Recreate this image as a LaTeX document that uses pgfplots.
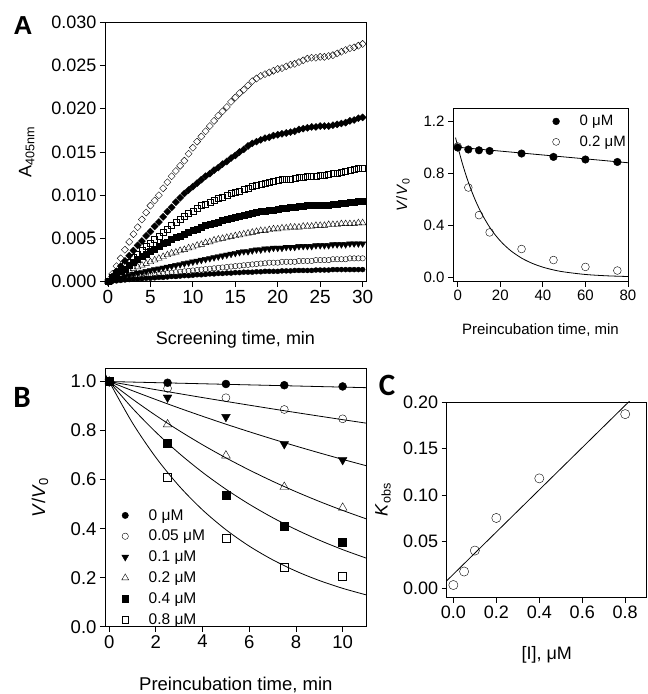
\documentclass[border=0pt]{standalone}
\usepackage{pgfplots}
\usepackage{pgfplotstable}
\pgfplotsset{compat=1.18}
\usepackage{fontspec}
\setmainfont{Liberation Sans}
\newfontfamily\letterfont{Carlito}

% Absorbance traces at 405 nm, one column per inhibitor concentration
\pgfplotstableread{
t    d1     d2     s1     s2     tu      td      c1      c2
0    0      0      0      0      0       0       0       0
0.5  0.0009 0.0006 0.0005 0.0004 0.00025 0.00015 0.0001  0.00005
1    0.0018 0.0012 0.0010 0.0008 0.0005  0.0003  0.0002  0.0001
1.5  0.0027 0.0018 0.0014 0.0012 0.00075 0.00045 0.0003  0.00015
2    0.0037 0.0024 0.0019 0.0015 0.0010  0.0006  0.0004  0.0002
2.5  0.0046 0.0030 0.0023 0.0019 0.0013  0.00075 0.00045 0.00025
3    0.0055 0.0036 0.0028 0.0022 0.0015  0.0009  0.0005  0.0003
3.5  0.0063 0.0042 0.0032 0.0026 0.0017  0.0010  0.0006  0.0003
4    0.0072 0.0047 0.0036 0.0029 0.0019  0.0011  0.0007  0.00035
4.5  0.0080 0.0053 0.0041 0.0032 0.0021  0.0012  0.00075 0.0004
5    0.0088 0.0058 0.0045 0.0035 0.0023  0.0013  0.0008  0.0004
5.5  0.0094 0.0064 0.0049 0.0038 0.0025  0.0014  0.00085 0.00045
6    0.0100 0.0069 0.0053 0.0041 0.0027  0.0015  0.0009  0.0005
6.5  0.0108 0.0075 0.0057 0.0044 0.0029  0.0016  0.00095 0.0005
7    0.0115 0.0081 0.0061 0.0046 0.0031  0.0017  0.0010  0.00055
7.5  0.0122 0.0086 0.0065 0.0049 0.0033  0.0018  0.00105 0.0006
8    0.0128 0.0092 0.0069 0.0051 0.0034  0.0019  0.0011  0.0006
8.5  0.0134 0.0097 0.0072 0.0053 0.0036  0.0020  0.00115 0.00065
9    0.0140 0.0102 0.0076 0.0055 0.0037  0.0021  0.0012  0.0007
9.5  0.0148 0.0106 0.0079 0.0057 0.0039  0.0022  0.00125 0.0007
10   0.0155 0.0110 0.0082 0.0059 0.0040  0.0023  0.0013  0.00075
10.5 0.0162 0.0114 0.0085 0.0061 0.0042  0.0024  0.00135 0.0008
11   0.0168 0.0118 0.0088 0.0063 0.0043  0.0025  0.0014  0.0008
11.5 0.0174 0.0122 0.0090 0.0065 0.0045  0.0026  0.00145 0.00085
12   0.0180 0.0125 0.0092 0.0066 0.0046  0.0027  0.0015  0.0009
12.5 0.0186 0.0129 0.0094 0.0068 0.0048  0.0028  0.00155 0.0009
13   0.0192 0.0132 0.0096 0.0069 0.0049  0.0029  0.0016  0.00095
13.5 0.0197 0.0136 0.0098 0.0071 0.0050  0.0030  0.00165 0.00095
14   0.0202 0.0139 0.0100 0.0072 0.0051  0.0031  0.0017  0.0010
14.5 0.0208 0.0143 0.0102 0.0074 0.0052  0.0032  0.00175 0.0010
15   0.0213 0.0146 0.0103 0.0075 0.0053  0.0033  0.0018  0.00105
15.5 0.0218 0.0150 0.0105 0.0076 0.0054  0.0034  0.00185 0.00105
16   0.0222 0.0153 0.0107 0.0077 0.0055  0.0035  0.0019  0.0011
16.5 0.0227 0.0157 0.0108 0.0078 0.0056  0.0035  0.00195 0.0011
17   0.0232 0.0160 0.0110 0.0079 0.0057  0.0036  0.0020  0.0011
17.5 0.0235 0.0162 0.0112 0.0080 0.0058  0.0037  0.00205 0.00115
18   0.0238 0.0164 0.0113 0.0081 0.0059  0.0037  0.0021  0.00115
18.5 0.0240 0.0166 0.0114 0.0082 0.0059  0.0038  0.00213 0.0012
19   0.0242 0.0167 0.0115 0.0083 0.0060  0.0038  0.0022  0.0012
19.5 0.0244 0.0169 0.0116 0.0083 0.0061  0.0039  0.0022  0.0012
20   0.0246 0.0170 0.0117 0.0084 0.0061  0.0039  0.0022  0.0012
20.5 0.0247 0.0171 0.0118 0.0085 0.0062  0.0039  0.0023  0.00125
21   0.0249 0.0172 0.0119 0.0085 0.0062  0.0040  0.0023  0.00125
21.5 0.0251 0.0173 0.0119 0.0086 0.0063  0.0040  0.0023  0.00125
22   0.0252 0.0174 0.0120 0.0086 0.0063  0.0040  0.0023  0.0013
22.5 0.0254 0.0176 0.0121 0.0087 0.0063  0.0041  0.0024  0.0013
23   0.0256 0.0177 0.0121 0.0087 0.0064  0.0041  0.0024  0.0013
23.5 0.0258 0.0178 0.0122 0.0088 0.0064  0.0041  0.0024  0.0013
24   0.0259 0.0179 0.0122 0.0088 0.0064  0.0041  0.0024  0.0013
24.5 0.0259 0.0179 0.0122 0.0088 0.0065  0.0042  0.0025  0.00135
25   0.0260 0.0180 0.0123 0.0088 0.0065  0.0042  0.0025  0.00135
25.5 0.0260 0.0180 0.0123 0.0089 0.0065  0.0042  0.0025  0.00135
26   0.0261 0.0180 0.0124 0.0089 0.0066  0.0042  0.0025  0.00135
26.5 0.0262 0.0181 0.0125 0.0090 0.0066  0.0043  0.0026  0.0014
27   0.0264 0.0182 0.0126 0.0090 0.0066  0.0043  0.0026  0.0014
27.5 0.0266 0.0183 0.0127 0.0091 0.0067  0.0043  0.0026  0.0014
28   0.0268 0.0184 0.0128 0.0091 0.0067  0.0043  0.0026  0.0014
28.5 0.0270 0.0186 0.0129 0.0092 0.0067  0.0044  0.0027  0.0014
29   0.0271 0.0187 0.0130 0.0092 0.0067  0.0044  0.0027  0.0014
29.5 0.0273 0.0189 0.0131 0.0093 0.0068  0.0044  0.0027  0.0014
30   0.0275 0.0190 0.0131 0.0093 0.0068  0.0044  0.0027  0.0014
}\screening

\pgfplotsset{
  panel/.style={
    scale only axis,
    axis line style={line width=0.8pt},
    tick align=outside,
    major tick length=5pt,
    every tick/.style={black, line width=0.8pt},
    xtick pos=bottom, ytick pos=left,
    /pgf/number format/assume math mode=true,
    scaled ticks=false,
    every mark/.append style={line width=0.6pt},
  },
  fix1/.style={/pgf/number format/fixed, /pgf/number format/fixed zerofill, /pgf/number format/precision=1},
  fix2/.style={/pgf/number format/fixed, /pgf/number format/fixed zerofill, /pgf/number format/precision=2},
  fix3/.style={/pgf/number format/fixed, /pgf/number format/fixed zerofill, /pgf/number format/precision=3},
}

\begin{document}
\begin{tikzpicture}
\path[use as bounding box] (0pt,0pt) rectangle (648pt,694pt);

% ---------- A: progress curves ----------
\begin{axis}[panel,
  at={(105pt,412.3pt)}, anchor=south west,
  width=261pt, height=259.4pt,
  xmin=-0.35, xmax=30.4, ymin=0, ymax=0.030,
  xtick={0,5,...,30}, ytick={0,0.005,...,0.030},
  yticklabel style={fix3},
  x tick label style={font=\fontsize{19}{21}\selectfont},
  y tick label style={font=\fontsize{18}{20}\selectfont},
  xlabel={Screening time, min},
  ylabel={A\textsubscript{405nm}},
  label style={font=\fontsize{18}{20}\selectfont},
  x label style={at={(axis description cs:0.5,-0.2248)}, anchor=center},
  y label style={at={(axis description cs:-0.30,0.5)}, anchor=center},
]
\addplot[only marks, mark=*, mark size=2.5pt] table[x=t, y=c2] {\screening};
\addplot[only marks, mark=o, mark size=2.7pt] table[x=t, y=c1] {\screening};
\addplot[only marks, mark=triangle*, mark size=3.8pt, mark options={rotate=180}] table[x=t, y=td] {\screening};
\addplot[only marks, mark=triangle, mark size=3.8pt] table[x=t, y=tu] {\screening};
\addplot[only marks, mark=square*, mark size=3pt] table[x=t, y=s2] {\screening};
\addplot[only marks, mark=square, mark size=3pt] table[x=t, y=s1] {\screening};
\addplot[only marks, mark=square*, mark size=2.5pt, mark options={rotate=45}] table[x=t, y=d2] {\screening};
\addplot[only marks, mark=square, mark size=2.5pt, mark options={rotate=45}] table[x=t, y=d1] {\screening};
\end{axis}

% ---------- A inset: long preincubation ----------
\begin{axis}[panel,
  at={(453pt,412.3pt)}, anchor=south west,
  width=175pt, height=173.7pt,
  xmin=-2.2, xmax=80, ymin=-0.034, ymax=1.305,
  xtick={0,20,...,80}, ytick={0,0.4,0.8,1.2},
  yticklabel style={fix1},
  tick label style={font=\fontsize{15}{17}\selectfont},
  xlabel={Preincubation time, min},
  ylabel={\textit{V}/\textit{V}\textsubscript{0}},
  label style={font=\fontsize{15}{17}\selectfont},
  x label style={at={(axis description cs:0.5,-0.278)}, anchor=center},
  y label style={at={(axis description cs:-0.2857,0.5)}, anchor=center},
  legend style={at={(axis description cs:1.0,0.97)}, anchor=north east,
    draw=none, fill=none, font=\fontsize{15}{17}\selectfont,
    row sep=4.5pt, inner sep=0pt,
    /tikz/every odd column/.append style={column sep=18pt}},
  legend cell align=left,
  legend image post style={scale=0.9},
]
\addplot[black, line width=0.8pt, forget plot] coordinates {(-2.2,1.006) (80,0.883)};
\addplot[black, line width=0.8pt, smooth, forget plot] coordinates {
  (-1,1.0768) (0,1.01) (2,0.8886) (4,0.7819) (6,0.6879) (8,0.6053) (10,0.5326)
  (12,0.4686) (15,0.3867) (18,0.3192) (21,0.2634) (25,0.2039) (30,0.1481)
  (35,0.1075) (40,0.0781) (45,0.0567) (50,0.0412) (60,0.0217) (70,0.0114) (80,0.0060)};
\addplot[only marks, mark=*, mark size=3.8pt] coordinates {
  (0,1.0) (5,0.985) (10,0.979) (15,0.974) (30,0.954) (45,0.928) (60,0.908) (75,0.889)};
\addlegendentry{0 μM}
\addplot[only marks, mark=o, mark size=3.9pt] coordinates {
  (0,1.008) (5,0.692) (10,0.479) (15,0.346) (30,0.218) (45,0.133) (60,0.080) (75,0.052)};
\addlegendentry{0.2 μM}
\end{axis}

% ---------- B: residual activity vs preincubation ----------
\begin{axis}[panel,
  at={(105pt,67.3pt)}, anchor=south west,
  width=261.7pt, height=258.4pt,
  xmin=-0.18, xmax=11.03, ymin=0, ymax=1.054,
  xtick={0,2,...,10}, ytick={0,0.2,...,1.0},
  yticklabel style={fix1},
  tick label style={font=\fontsize{18.5}{20}\selectfont},
  xlabel={Preincubation time, min},
  ylabel={\textit{V}/\textit{V}\textsubscript{0}},
  label style={font=\fontsize{18.5}{20}\selectfont},
  x label style={at={(axis description cs:0.5,-0.2256)}, anchor=center},
  y label style={at={(axis description cs:-0.2484,0.5)}, anchor=center},
  legend style={at={(axis cs:0.53,0.488)}, anchor=north west,
    draw=none, fill=none, font=\fontsize{15.5}{17}\selectfont,
    row sep=4.5pt, inner sep=0pt,
    /tikz/every odd column/.append style={column sep=18pt}},
  legend cell align=left,
  legend image post style={scale=0.8},
]
% single-exponential fits
\addplot[black, line width=0.8pt, forget plot] coordinates {(-0.2,1.0005) (11,0.975)};
\addplot[black, line width=0.8pt, smooth, forget plot] coordinates {
  (-0.2,1.0034) (0,1) (1,0.9832) (2,0.9668) (3,0.9506) (4,0.9346) (5,0.9190)
  (6,0.9036) (7,0.8884) (8,0.8735) (9,0.8589) (10,0.8445) (11,0.8304)};
\addplot[black, line width=0.8pt, smooth, forget plot] coordinates {
  (-0.2,1.0077) (0,1) (1,0.9625) (2,0.9265) (3,0.8917) (4,0.8583) (5,0.8261)
  (6,0.7952) (7,0.7654) (8,0.7367) (9,0.7091) (10,0.6825) (11,0.6569)};
\addplot[black, line width=0.8pt, smooth, forget plot] coordinates {
  (-0.2,1.0150) (0,1) (1,0.9281) (2,0.8614) (3,0.7995) (4,0.7420) (5,0.6887)
  (6,0.6392) (7,0.5932) (8,0.5506) (9,0.5110) (10,0.4743) (11,0.4402)};
\addplot[black, line width=0.8pt, smooth, forget plot] coordinates {
  (-0.2,1.0234) (0,1) (1,0.8907) (2,0.7934) (3,0.7067) (4,0.6295) (5,0.5607)
  (6,0.4995) (7,0.4449) (8,0.3963) (9,0.3530) (10,0.3144) (11,0.2801)};
\addplot[black, line width=0.8pt, smooth, forget plot] coordinates {
  (-0.2,1.0378) (0,1) (1,0.8307) (2,0.6901) (3,0.5732) (4,0.4762) (5,0.3956)
  (6,0.3286) (7,0.2730) (8,0.2267) (9,0.1884) (10,0.1565) (11,0.1300)};
% measured points
\addplot[only marks, mark=*, mark size=4pt] coordinates {
  (0,1.0) (2.5,0.995) (5,0.99) (7.5,0.985) (10,0.98)};
\addlegendentry{0 μM}
\addplot[only marks, mark=o, mark size=4pt] coordinates {
  (0,1.0) (2.5,0.972) (5,0.934) (7.5,0.886) (10,0.848)};
\addlegendentry{0.05 μM}
\addplot[only marks, mark=triangle*, mark size=5pt, mark options={rotate=180}] coordinates {
  (0,1.0) (2.5,0.935) (5,0.856) (7.5,0.745) (10,0.680)};
\addlegendentry{0.1 μM}
\addplot[only marks, mark=triangle, mark size=5pt] coordinates {
  (0,1.0) (2.5,0.825) (5,0.698) (7.5,0.570) (10,0.485)};
\addlegendentry{0.2 μM}
\addplot[only marks, mark=square*, mark size=4pt] coordinates {
  (0,1.0) (2.5,0.748) (5,0.535) (7.5,0.410) (10,0.345)};
\addlegendentry{0.4 μM}
\addplot[only marks, mark=square, mark size=4pt] coordinates {
  (0,1.0) (2.5,0.610) (5,0.363) (7.5,0.242) (10,0.204)};
\addlegendentry{0.8 μM}
\end{axis}

% ---------- C: k_obs vs inhibitor concentration ----------
\begin{axis}[panel,
  at={(446.7pt,96.3pt)}, anchor=south west,
  width=200pt, height=195.7pt,
  xmin=-0.031, xmax=0.9, ymin=-0.0101, ymax=0.2,
  xtick={0,0.2,...,0.8}, ytick={0,0.05,...,0.2},
  xticklabel style={fix1},
  yticklabel style={fix2},
  tick label style={font=\fontsize{18}{20}\selectfont},
  xlabel={[I], μM},
  ylabel={\textit{K}\textsubscript{obs}},
  label style={font=\fontsize{18}{20}\selectfont},
  x label style={at={(axis description cs:0.5,-0.2928)}, anchor=center},
  y label style={at={(axis description cs:-0.3185,0.5)}, anchor=center},
]
\addplot[black, line width=0.8pt] coordinates {(-0.04,0.0060) (0.9,0.2191)};
\addplot[only marks, mark=o, mark size=4.6pt] coordinates {
  (0,0.0035) (0.05,0.018) (0.1,0.0405) (0.2,0.0755) (0.4,0.118) (0.8,0.187)};
\end{axis}

% panel letters
\node[font=\fontsize{26}{28}\selectfont\bfseries] at (23pt,668pt) {A};
\node[font=\letterfont\fontsize{31}{33}\selectfont\bfseries] at (22pt,297pt) {B};
\node[font=\letterfont\fontsize{31}{33}\selectfont\bfseries] at (387pt,309pt) {C};
\end{tikzpicture}
\end{document}
